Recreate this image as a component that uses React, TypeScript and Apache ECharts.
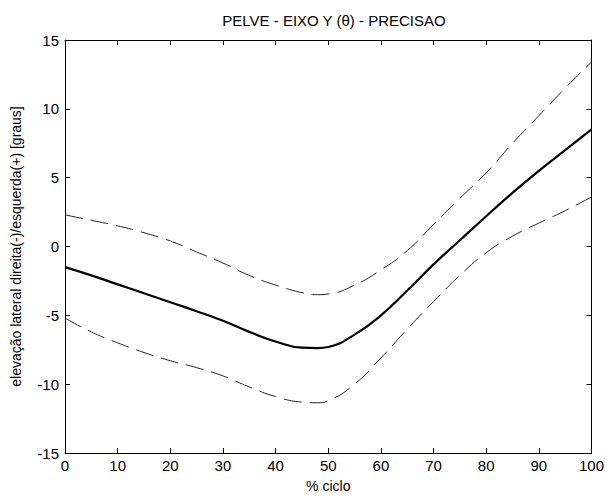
import React, { useEffect, useRef } from "react";
import * as echarts from "echarts";

const pct = [0, 5, 10, 15, 20, 25, 30, 35, 40, 45, 48, 50, 55, 60, 65, 70, 75, 80, 85, 90, 95, 100];
const meanVals = [-1.5, -2.1, -2.75, -3.4, -4.05, -4.7, -5.4, -6.2, -6.9, -7.35, -7.38, -7.3, -6.4, -5.0, -3.2, -1.3, 0.45, 2.2, 3.9, 5.5, 7.0, 8.5];
const upperVals = [2.3, 1.9, 1.5, 1.0, 0.4, -0.4, -1.2, -2.1, -2.8, -3.35, -3.5, -3.45, -2.8, -1.7, -0.3, 1.6, 3.5, 5.35, 7.5, 9.5, 11.5, 13.4];
const lowerVals = [-5.2, -6.2, -7.0, -7.7, -8.3, -8.8, -9.4, -10.2, -10.9, -11.3, -11.35, -11.2, -10.0, -8.1, -6.0, -4.0, -2.1, -0.45, 0.75, 1.7, 2.6, 3.6];

const titleText = "PELVE - EIXO Y (\u03b8) - PRECISAO";
const xName = "% ciclo";
const yName = "elevação lateral direita(-)/esquerda(+) [graus]";

const FONT = "'Liberation Sans', Arial, sans-serif";

export default function App() {
  const ref = useRef<HTMLDivElement>(null);
  useEffect(() => {
    if (!ref.current) return;
    const chart = echarts.init(ref.current, null, { renderer: "svg" });
    const toPairs = (v: number[]) => pct.map((p, i) => [p, v[i]]);
    const axisCommon = {
      axisLine: { show: true, onZero: false, lineStyle: { color: "#000", width: 1 } },
      axisTick: { show: true, inside: true, length: 5, lineStyle: { color: "#000" } },
      splitLine: { show: false },
    };
    chart.setOption({
      animation: false,
      backgroundColor: "#fff",
      title: {
        text: titleText,
        left: 329,
        textAlign: "center",
        top: 8,
        textStyle: { fontFamily: FONT, fontSize: 15, fontWeight: "normal", color: "#000" },
      },
      grid: { left: 65, right: 14, top: 40, bottom: 43 },
      xAxis: [
        {
          type: "value",
          min: 0,
          max: 100,
          interval: 10,
          ...axisCommon,
          axisLabel: { color: "#000", fontFamily: FONT, fontSize: 15, margin: 5 },
          name: xName,
          nameLocation: "middle",
          nameGap: 26,
          nameTextStyle: { color: "#000", fontFamily: FONT, fontSize: 14 },
        },
        {
          type: "value",
          position: "top",
          min: 0,
          max: 100,
          interval: 10,
          ...axisCommon,
          axisLabel: { show: false },
        },
      ],
      yAxis: [
        {
          type: "value",
          min: -15,
          max: 15,
          interval: 5,
          ...axisCommon,
          axisLabel: { color: "#000", fontFamily: FONT, fontSize: 15, margin: 6 },
          name: yName,
          nameLocation: "middle",
          nameGap: 42,
          nameTextStyle: { color: "#000", fontFamily: FONT, fontSize: 14 },
        },
        {
          type: "value",
          position: "right",
          min: -15,
          max: 15,
          interval: 5,
          ...axisCommon,
          axisLabel: { show: false },
        },
      ],
      series: [
        {
          type: "line",
          data: toPairs(upperVals),
          smooth: true,
          showSymbol: false,
          lineStyle: { color: "#222", width: 1, type: [18, 8] },
        },
        {
          type: "line",
          data: toPairs(meanVals),
          smooth: true,
          showSymbol: false,
          lineStyle: { color: "#000", width: 2.2 },
        },
        {
          type: "line",
          data: toPairs(lowerVals),
          smooth: true,
          showSymbol: false,
          lineStyle: { color: "#222", width: 1, type: [18, 8] },
        },
      ],
    });
    return () => chart.dispose();
  }, []);
  return <div ref={ref} style={{ width: 607, height: 498, position: "absolute", left: 0, top: 0 }} />;
}
